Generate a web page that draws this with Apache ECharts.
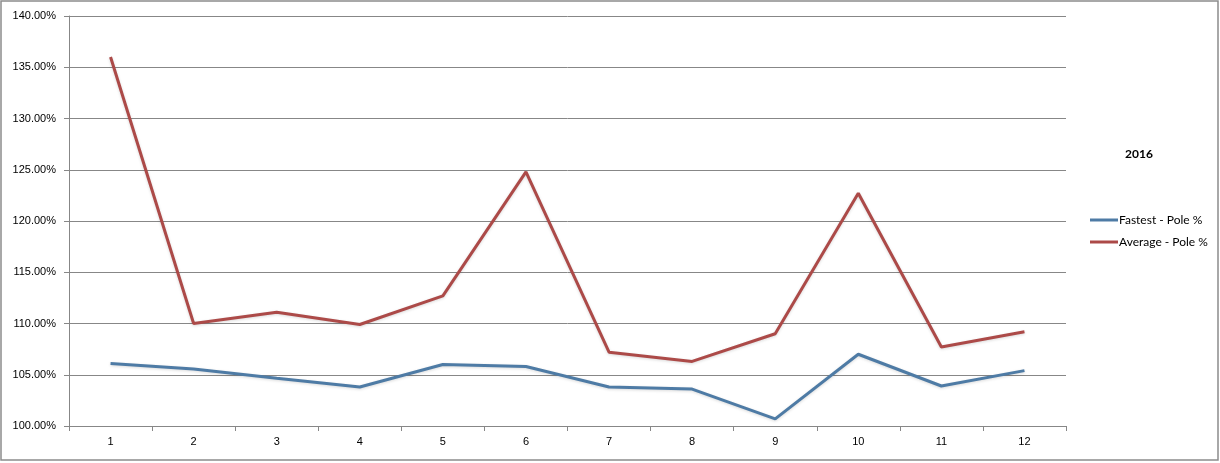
<!DOCTYPE html>
<html>
<head>
<meta charset="utf-8">
<script src="https://cdn.jsdelivr.net/npm/echarts@6/dist/echarts.min.js"></script>
<style>
  html, body { margin: 0; padding: 0; background: #fff; }
  #main { width: 1220px; height: 463px; }
</style>
</head>
<body>
<div id="main"></div>
<script>
// races 1..12, values in percent of pole time
var races = ['1', '2', '3', '4', '5', '6', '7', '8', '9', '10', '11', '12'];
var fastest = [106.1, 105.55, 104.65, 103.8, 106.0, 105.8, 103.8, 103.6, 100.7, 107.0, 103.9, 105.4];
var average = [136.0, 110.0, 111.1, 109.9, 112.7, 124.8, 107.2, 106.3, 109.0, 122.7, 107.7, 109.2];
var seriesNames = ['Fastest - Pole %', 'Average - Pole %'];
var yMin = 100, yMax = 140, yStep = 5;

var chart = echarts.init(document.getElementById('main'));

var gridColor = '#878787';
var labelFont = { fontFamily: 'Liberation Sans, Arial, sans-serif', fontSize: 11, color: '#000' };

chart.setOption({
  animation: false,
  backgroundColor: '#fff',
  color: ['#4E7BA5', '#AC4A48'],
  title: {
    text: '2016',
    left: 1120,
    top: 143,
    textStyle: { fontFamily: 'Lato, sans-serif', fontSize: 12, fontWeight: 'bold', color: '#000' }
  },
  legend: {
    orient: 'vertical',
    left: 1085,
    top: 209,
    icon: 'rect',
    itemWidth: 28,
    itemHeight: 3,
    itemGap: 10,
    textStyle: { fontFamily: 'Lato, sans-serif', fontSize: 12, color: '#000', padding: [0, 0, 0, -4] },
    data: seriesNames
  },
  graphic: [{
    type: 'rect',
    shape: { x: 1, y: 1, width: 1217, height: 459 },
    style: { fill: 'none', stroke: '#8c8c8c', lineWidth: 1.5 },
    silent: true
  }],
  grid: { left: 69, right: 154, top: 16, bottom: 37 },
  xAxis: {
    type: 'category',
    data: races,
    boundaryGap: true,
    axisLine: { lineStyle: { color: gridColor, width: 1 } },
    axisTick: { show: true, interval: 0, length: 5, lineStyle: { color: gridColor } },
    axisLabel: Object.assign({ margin: 10 }, labelFont),
    splitLine: { show: false }
  },
  yAxis: {
    type: 'value',
    min: yMin,
    max: yMax,
    interval: yStep,
    axisLine: { show: true, lineStyle: { color: gridColor, width: 1 } },
    axisTick: { show: true, length: 5, lineStyle: { color: gridColor } },
    axisLabel: Object.assign({
      margin: 13,
      formatter: function (v) { return v.toFixed(2) + '%'; }
    }, labelFont),
    splitLine: { lineStyle: { color: gridColor, width: 1 } }
  },
  series: [
    {
      name: seriesNames[0],
      type: 'line',
      data: fastest,
      symbol: 'none',
      lineStyle: { width: 3, shadowColor: 'rgba(0,0,0,0.15)', shadowBlur: 3, shadowOffsetY: 1 }
    },
    {
      name: seriesNames[1],
      type: 'line',
      data: average,
      symbol: 'none',
      lineStyle: { width: 3, shadowColor: 'rgba(0,0,0,0.15)', shadowBlur: 3, shadowOffsetY: 1 }
    }
  ]
});
</script>
</body>
</html>
